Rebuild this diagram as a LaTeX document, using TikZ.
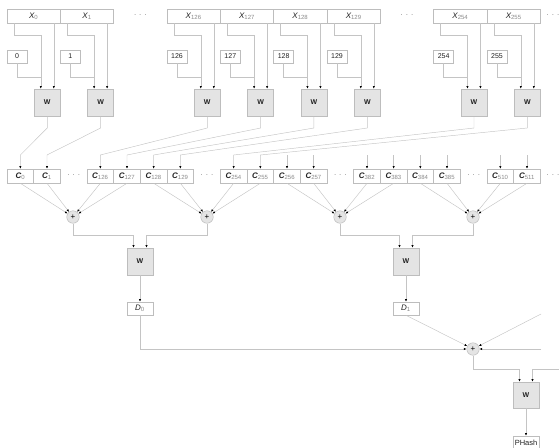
\documentclass[tikz,border=0pt]{standalone}
\usepackage{fontspec}
\setmainfont{Liberation Sans}
\usetikzlibrary{arrows.meta}
\definecolor{boxc}{HTML}{BDBDBD}
\definecolor{linec}{HTML}{C4C4C4}
\definecolor{wfill}{HTML}{E4E4E4}
\definecolor{subc}{HTML}{8A8A8A}
\definecolor{txt}{HTML}{222222}
\begin{document}
\begin{tikzpicture}[x=1pt,y=-1pt,
  every node/.style={text=txt},
  xbox/.style={draw=boxc,line width=0.5pt,fill=white,minimum width=53.33pt,minimum height=14pt,inner sep=0pt,font=\fontsize{8}{8}\selectfont\itshape},
  cbox/.style={draw=boxc,line width=0.5pt,fill=white,minimum width=26.67pt,minimum height=14pt,inner sep=0pt,font=\fontsize{8}{8}\selectfont\bfseries\itshape},
  dbox/.style={draw=boxc,line width=0.5pt,fill=white,minimum width=26pt,minimum height=13pt,inner sep=0pt,font=\fontsize{8}{8}\selectfont\itshape},
  numbox/.style={draw=boxc,line width=0.5pt,fill=white,minimum width=20pt,minimum height=13pt,inner sep=0pt,font=\fontsize{7}{7}\selectfont},
  wbox/.style={draw=boxc,line width=0.5pt,fill=wfill,minimum width=26pt,minimum height=27pt,inner sep=0pt,font=\fontsize{7}{7}\selectfont\bfseries},
  sumnode/.style={circle,draw=boxc,line width=0.5pt,fill=wfill,minimum size=12.5pt,inner sep=0pt,font=\fontsize{8}{8}\selectfont,text=black},
  dotsnode/.style={inner sep=0pt,font=\fontsize{8}{8}\selectfont,text=subc},
  wire/.style={draw=linec,line width=0.45pt},
  arr/.style={wire,-{Latex[length=2.6pt,width=2.2pt,color=black]}}]
\useasboundingbox (0,0) rectangle (559,447);
\newcommand{\sub}[1]{{\color{subc}\upshape\mdseries\textsubscript{#1}}}
% top row
\foreach \L/\i in {7/0,60.33/1,167/126,220.33/127,273.67/128,327/129,433.67/254,487/255}{
  \node[xbox] (X\i) at (\L+26.67,16) {X\sub{\i}};
  \node[numbox] (N\i) at (\L+10,56.5) {\i};
  \node[wbox] (W\i) at (\L+40.3,102.5) {W};
}
\node[dotsnode] (dt1) at (140.3,15) {. . .};
\node[dotsnode] (dt2) at (407,15) {. . .};
\node[dotsnode] (dt3) at (553,15) {. . .};
\coordinate (wlev) at (0,128);
\coordinate (clev) at (0,155);
% C row
\foreach \k/\i in {0/0,1/1,3/126,4/127,5/128,6/129,8/254,9/255,10/256,11/257,13/382,14/383,15/384,16/385,18/510,19/511}{
  \node[cbox] (C\i) at (7+\k*26.667+13.333,176) {C\sub{\i}};
}
\node[dotsnode] (dc1) at (73.7,175) {. . .};
\node[dotsnode] (dc2) at (207,175) {. . .};
\node[dotsnode] (dc3) at (340.3,175) {. . .};
\node[dotsnode] (dc4) at (473.7,175) {. . .};
\node[dotsnode] (dc5) at (553,175) {. . .};
% inputs to first-level W
\foreach \i in {0,1,126,127,128,129,254,255}{
  \draw[wire] (N\i.south) -- ++(0,14) -| ([xshift=-6.5pt,yshift=3pt]W\i.north);
  \draw[arr] ([xshift=7pt]X\i.south west) -- ++(0,12) -| ([xshift=-6.5pt]W\i.north);
  \draw[arr] ([xshift=6.5pt]W\i.north |- X\i.south) -- ([xshift=6.5pt]W\i.north);
  \draw[arr] (W\i.south) -- (W\i.south |- wlev) -- (C\i.north |- clev) -- (C\i.north);
}
\foreach \i in {256,257,382,383,384,385,510,511}{
  \draw[arr] (C\i.north |- clev) -- (C\i.north);
}
% sums
\node[sumnode] (S1) at (73,217) {+};
\node[sumnode] (S2) at (207,217) {+};
\node[sumnode] (S3) at (340,217) {+};
\node[sumnode] (S4) at (473,217) {+};
\foreach \i in {0,1,126,127}{\draw[arr] (C\i.south) -- (S1);}
\foreach \i in {128,129,254,255}{\draw[arr] (C\i.south) -- (S2);}
\foreach \i in {256,257,382,383}{\draw[arr] (C\i.south) -- (S3);}
\foreach \i in {384,385,510,511}{\draw[arr] (C\i.south) -- (S4);}
% second level
\node[wbox] (WA) at (140,261.5) {W};
\node[wbox] (WB) at (406,261.5) {W};
\draw[arr] (S1.south) -- ++(0,12) -| ([xshift=-6.5pt]WA.north);
\draw[arr] (S2.south) -- ++(0,12) -| ([xshift=6.5pt]WA.north);
\draw[arr] (S3.south) -- ++(0,12) -| ([xshift=-6.5pt]WB.north);
\draw[arr] (S4.south) -- ++(0,12) -| ([xshift=6.5pt]WB.north);
\node[dbox] (D0) at (140,308.5) {D\sub{0}};
\node[dbox] (D1) at (406,308.5) {D\sub{1}};
\draw[arr] (WA) -- (D0);
\draw[arr] (WB) -- (D1);
% final sum
\node[sumnode] (S5) at (473,349) {+};
\coordinate (in2) at (541,314);
\coordinate (in3) at (541,349);
\coordinate (in4) at (559,369);
\draw[arr] (D0.south) |- (S5.west);
\draw[arr] (D1.south) -- (S5);
\draw[arr] (in2) -- (S5);
\draw[arr] (in3) -- (S5.east);
\node[wbox,minimum height=26pt] (WF) at (526,395) {W};
\draw[arr] (S5.south) -- ++(0,14) -| ([xshift=-6.5pt]WF.north);
\draw[arr] (in4) -| ([xshift=6.5pt]WF.north);
\node[dbox,minimum height=14pt,font=\fontsize{7.5}{7.5}\selectfont] (PH) at (526,443) {PHash};
\draw[arr] (WF) -- (PH);
\end{tikzpicture}
\end{document}
